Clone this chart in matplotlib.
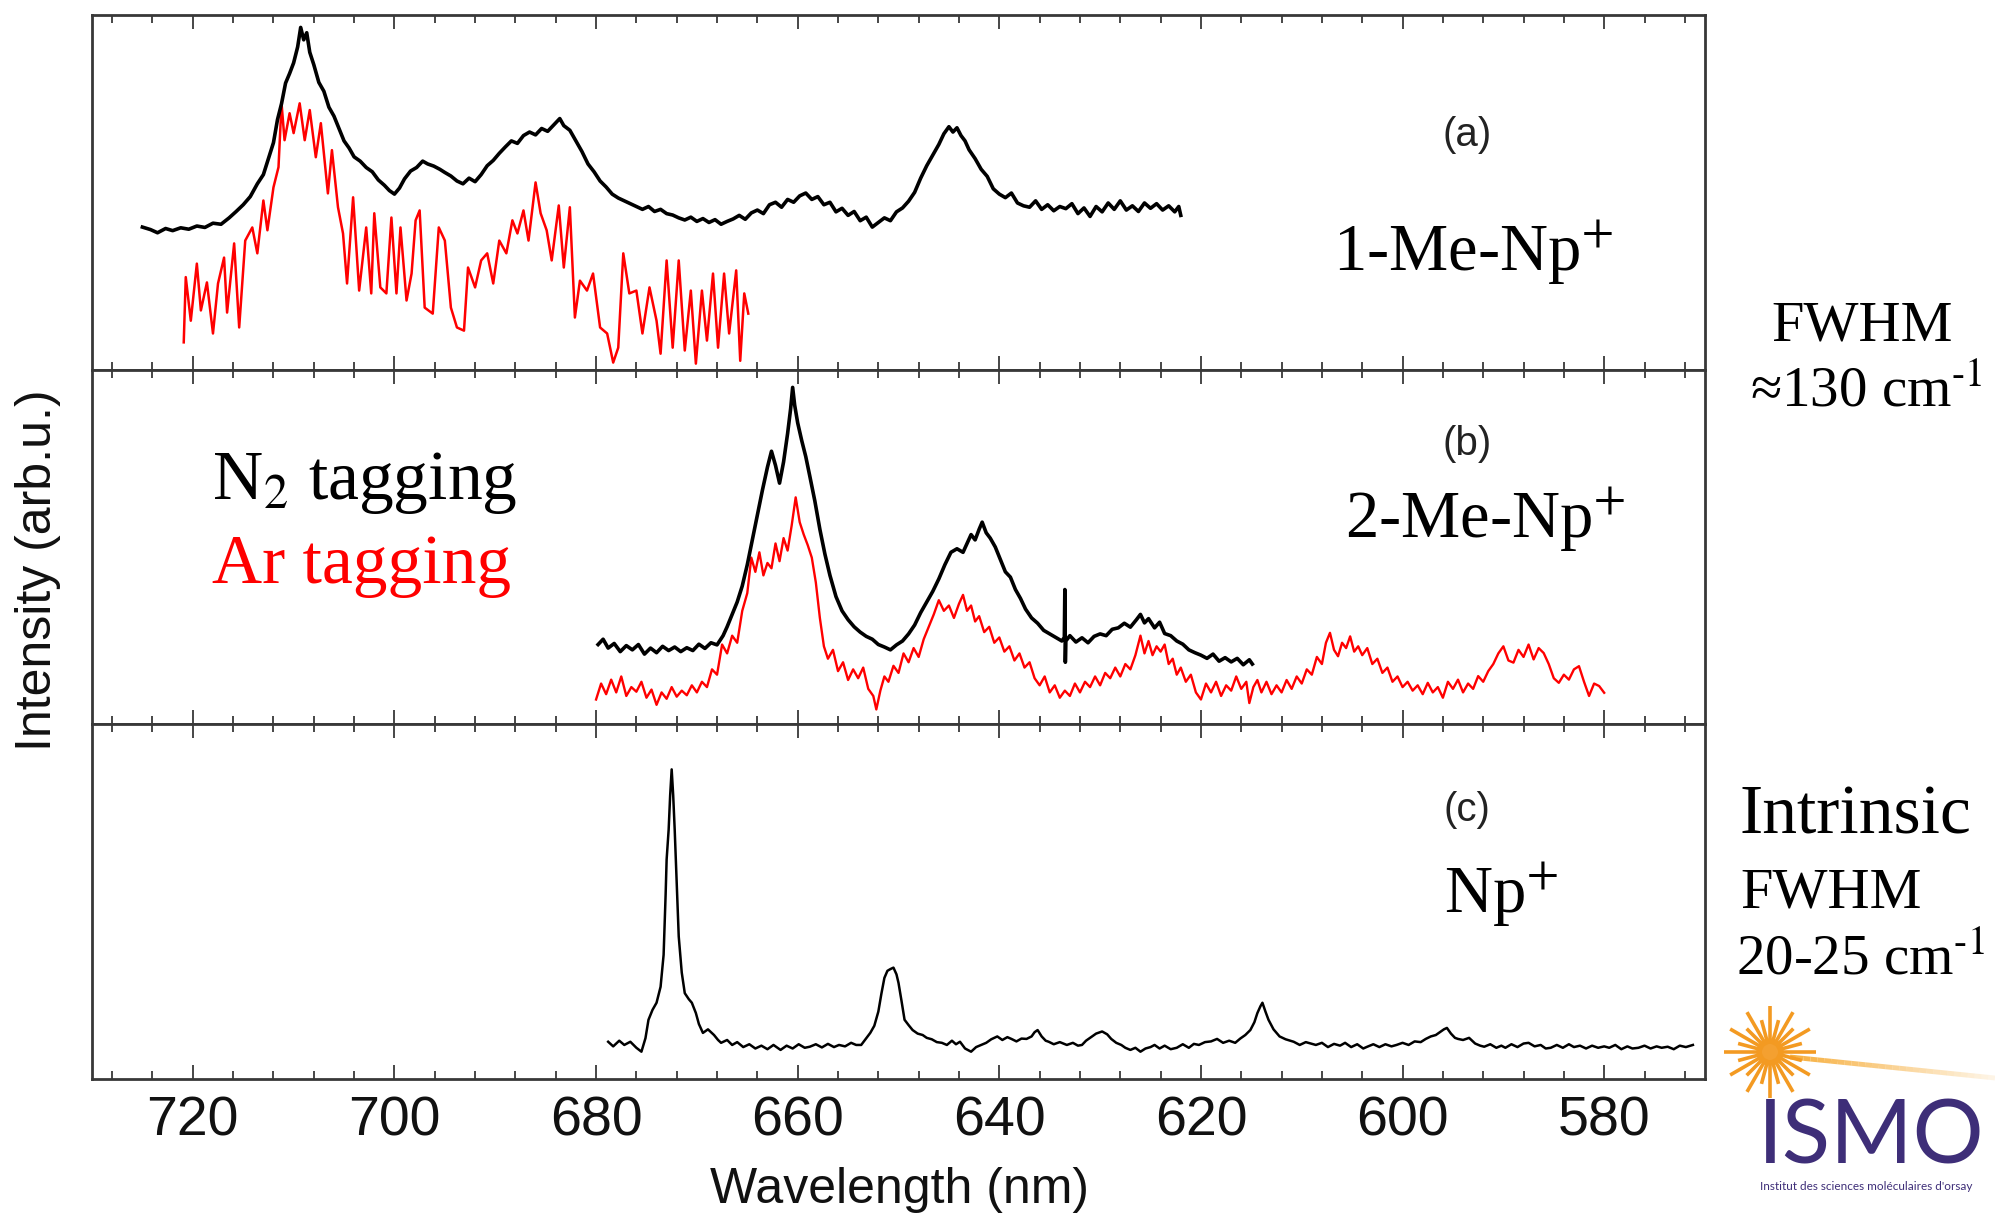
import numpy as np
import matplotlib.pyplot as plt
from matplotlib.ticker import MultipleLocator

plt.rcParams['font.family'] = ['Liberation Sans', 'DejaVu Sans']
plt.rcParams['mathtext.fontset'] = 'stix'

# ---- panel (a) 1-Me-Np+ : N2 tagging (black) ----
wl_a_n2 = [725.0, 724.2, 723.5, 722.7, 722.0, 721.2, 720.4, 719.6, 718.8, 718.0, 717.2, 716.4, 715.7,
           715.0, 714.3, 713.6, 713.0, 712.5, 712.0, 711.6, 711.2, 710.8, 710.4, 710.0, 709.6, 709.3,
           709.0, 708.7, 708.4, 708.0, 707.5, 707.0, 706.5, 706.0, 705.5, 705.0, 704.5, 704.0, 703.4,
           702.8, 702.2, 701.6, 701.0, 700.5, 700.0, 699.5, 699.0, 698.4, 697.8, 697.2, 696.7, 696.1,
           695.5, 695.0, 694.4, 693.8, 693.2, 692.6, 692.0, 691.4, 690.8, 690.2, 689.6, 689.0, 688.4,
           687.8, 687.2, 686.6, 686.0, 685.4, 684.8, 684.2, 683.6, 683.2, 682.6, 682.0, 681.4, 680.8,
           680.2, 679.6, 679.0, 678.4, 677.8, 677.2, 676.6, 676.0, 675.4, 674.8, 674.2, 673.6, 673.0,
           672.4, 671.8, 671.2, 670.6, 670.0, 669.4, 668.8, 668.2, 667.6, 667.0, 666.4, 665.8, 665.2,
           664.6, 664.0, 663.4, 662.8, 662.2, 661.6, 661.0, 660.4, 659.8, 659.2, 658.6, 658.0, 657.4,
           656.8, 656.2, 655.6, 655.0, 654.4, 653.8, 653.2, 652.6, 652.0, 651.4, 650.8, 650.2, 649.6,
           649.0, 648.4, 647.8, 647.2, 646.6, 646.0, 645.5, 645.0, 644.6, 644.2, 643.8, 643.4, 643.0,
           642.4, 641.8, 641.2, 640.6, 640.0, 639.4, 638.8, 638.2, 637.6, 637.0, 636.4, 635.8, 635.2,
           634.6, 634.0, 633.4, 632.8, 632.2, 631.6, 631.0, 630.4, 629.8, 629.2, 628.6, 628.0, 627.4,
           626.8, 626.2, 625.6, 625.0, 624.4, 623.8, 623.2, 622.6, 622.2, 622.0]
int_a_n2 = [40.2, 39.5, 38.6, 39.8, 39.2, 40.0, 39.6, 40.5, 40.1, 41.3, 41.0, 42.8, 44.6,
            46.5, 48.8, 52.4, 55.0, 59.5, 64.0, 70.5, 75.0, 80.8, 83.5, 86.5, 91.0, 96.5,
            93.0, 95.0, 89.5, 86.0, 81.0, 78.5, 74.0, 71.5, 68.0, 64.5, 62.5, 60.0, 58.8,
            57.0, 55.8, 53.5, 52.0, 50.5, 49.5, 51.2, 53.8, 56.0, 57.0, 58.8, 58.0, 57.4,
            56.5, 55.6, 54.6, 53.2, 52.4, 54.0, 53.0, 55.0, 57.5, 59.0, 61.0, 62.8, 64.5,
            63.8, 66.0, 67.0, 66.2, 68.0, 67.2, 69.0, 70.8, 68.8, 67.5, 64.5, 61.5, 58.0,
            55.8, 53.2, 51.5, 49.5, 48.4, 47.6, 46.8, 46.0, 45.2, 46.0, 44.6, 45.2, 44.0,
            43.6, 42.8, 42.2, 43.0, 41.8, 42.6, 41.5, 42.3, 41.0, 41.8, 42.5, 43.5, 42.4,
            44.2, 45.0, 44.0, 46.5, 47.2, 45.8, 48.0, 47.2, 49.0, 49.8, 48.0, 48.8, 46.5,
            47.2, 44.5, 45.5, 43.5, 44.6, 42.0, 43.0, 40.2, 41.5, 42.8, 42.0, 44.5, 45.6,
            47.5, 50.0, 54.0, 57.5, 60.5, 63.5, 66.5, 68.5, 67.0, 68.2, 66.0, 64.5, 62.0,
            59.5, 56.5, 54.5, 51.0, 49.5, 48.5, 49.8, 47.0, 46.2, 45.8, 47.6, 45.2, 46.5,
            44.8, 46.0, 45.4, 46.8, 44.0, 45.6, 43.2, 46.0, 44.5, 47.0, 45.2, 47.6, 45.0,
            46.2, 44.6, 47.0, 45.5, 46.8, 45.0, 46.2, 44.5, 46.0, 43.5]

# ---- panel (a) 1-Me-Np+ : Ar tagging (red) ----
wl_a_ar = [720.9, 720.7, 720.2, 719.6, 719.2, 718.6, 718.0, 717.5, 716.9, 716.6, 715.9, 715.4, 714.8,
           714.1, 713.6, 713.0, 712.6, 712.0, 711.5, 711.2, 710.9, 710.4, 710.0, 709.4, 708.9, 708.4,
           707.8, 707.3, 706.6, 706.2, 705.6, 705.1, 704.7, 704.1, 703.5, 702.8, 702.3, 702.0, 701.4,
           700.8, 700.3, 699.8, 699.4, 698.8, 698.3, 697.9, 697.5, 697.0, 696.2, 695.6, 695.0, 694.4,
           693.8, 693.1, 692.7, 692.0, 691.4, 690.8, 690.2, 689.6, 688.9, 688.3, 687.8, 687.2, 686.7,
           686.0, 685.5, 684.9, 684.4, 683.7, 683.2, 682.6, 682.1, 681.6, 680.9, 680.3, 679.6, 678.9,
           678.3, 677.8, 677.3, 676.7, 676.0, 675.4, 674.7, 674.0, 673.6, 673.0, 672.4, 671.8, 671.2,
           670.6, 670.1, 669.5, 669.0, 668.4, 667.9, 667.3, 666.8, 666.1, 665.7, 665.3, 664.9]
int_a_ar = [7.7, 26.1, 13.8, 29.9, 16.7, 24.6, 10.2, 24.3, 31.6, 16.1, 35.6, 11.9, 36.4,
            40.1, 32.8, 47.7, 39.3, 51.4, 57.1, 75.1, 64.7, 72.3, 66.7, 75.1, 64.7, 73.2,
            59.9, 69.5, 49.7, 61.9, 45.8, 38.4, 24.3, 48.6, 22.3, 40.1, 21.5, 44.1, 23.2,
            21.5, 42.9, 21.5, 40.1, 19.5, 27.1, 42.1, 44.9, 17.5, 15.8, 40.1, 36.4, 17.5,
            11.9, 11.0, 28.8, 23.2, 30.8, 32.8, 24.3, 36.4, 32.8, 42.1, 38.4, 44.9, 36.4,
            52.8, 44.1, 39.3, 30.8, 46.3, 28.8, 45.8, 14.7, 25.1, 22.3, 27.1, 11.9, 10.2,
            2.0, 6.2, 32.8, 21.5, 22.3, 10.2, 23.2, 13.8, 4.5, 30.8, 6.2, 30.8, 5.4,
            22.3, 1.7, 22.3, 8.2, 27.1, 6.2, 27.1, 10.2, 28.0, 2.5, 21.5, 15.8]

# ---- panel (b) 2-Me-Np+ : N2 tagging (black) ----
wl_b_n2 = [679.8, 679.3, 678.8, 678.2, 677.6, 677.0, 676.4, 675.8, 675.2, 674.6, 674.0, 673.4, 672.8,
           672.2, 671.6, 671.0, 670.4, 669.8, 669.2, 668.6, 668.0, 667.4, 667.0, 666.5, 666.0, 665.5,
           665.0, 664.5, 664.0, 663.5, 663.0, 662.6, 662.2, 661.8, 661.4, 661.0, 660.7, 660.5, 660.3,
           660.0, 659.6, 659.2, 658.8, 658.3, 657.8, 657.3, 656.8, 656.2, 655.6, 655.0, 654.4, 653.8,
           653.2, 652.6, 652.0, 651.4, 650.8, 650.2, 649.6, 649.0, 648.4, 647.8, 647.2, 646.6, 646.0,
           645.4, 644.8, 644.2, 643.6, 643.2, 642.8, 642.4, 642.0, 641.7, 641.3, 640.9, 640.4, 639.9,
           639.4, 638.9, 638.4, 637.9, 637.4, 636.8, 636.2, 635.6, 635.0, 634.4, 633.8, 633.55, 633.5,
           633.45, 633.4, 633.0, 632.4, 631.8, 631.2, 630.6, 630.0, 629.4, 628.8, 628.2, 627.6, 627.0,
           626.4, 626.0, 625.6, 625.2, 624.6, 624.1, 623.6, 623.0, 622.4, 621.8, 621.2, 620.6, 620.0,
           619.4, 618.8, 618.2, 617.6, 617.0, 616.4, 615.8, 615.2, 614.9]
int_b_n2 = [22.5, 24.0, 21.5, 22.8, 20.5, 22.2, 21.0, 22.5, 19.8, 21.5, 20.2, 22.0, 20.8,
            21.8, 20.5, 21.6, 20.8, 22.6, 21.4, 23.0, 22.4, 25.0, 27.5, 31.0, 34.5, 39.0,
            45.0, 52.0, 59.0, 66.0, 72.5, 77.0, 73.0, 68.0, 74.0, 82.0, 89.0, 95.0, 90.0,
            85.0, 80.0, 75.5, 70.0, 63.0, 55.0, 48.0, 42.0, 36.0, 32.0, 29.5, 27.5, 26.0,
            24.8, 24.0, 22.5, 21.8, 21.0, 22.4, 23.5, 25.5, 28.0, 31.5, 34.5, 37.5, 41.0,
            45.0, 48.5, 49.5, 48.5, 51.0, 53.5, 52.0, 55.0, 57.0, 54.0, 52.5, 50.0, 46.5,
            43.0, 41.5, 38.0, 35.5, 32.5, 30.0, 28.5, 26.5, 25.5, 24.5, 23.5, 24.5, 38.0,
            17.5, 23.5, 25.0, 23.2, 24.4, 23.0, 24.8, 25.5, 25.0, 26.8, 27.2, 28.5, 27.4,
            29.5, 31.0, 28.6, 29.8, 27.2, 28.8, 25.6, 25.0, 23.5, 22.6, 21.0, 20.2, 19.5,
            18.6, 19.8, 17.8, 18.8, 17.6, 18.6, 16.8, 18.2, 17.0]

# ---- panel (b) 2-Me-Np+ : Ar tagging (red) ----
wl_b_ar = [680.0, 679.5, 679.0, 678.5, 678.0, 677.5, 677.0, 676.5, 676.0, 675.5, 675.0, 674.5, 674.0,
           673.5, 673.0, 672.5, 672.0, 671.5, 671.0, 670.5, 670.0, 669.5, 669.0, 668.5, 668.0, 667.5,
           667.0, 666.5, 666.0, 665.5, 665.0, 664.6, 664.2, 663.8, 663.4, 663.0, 662.6, 662.2, 661.8,
           661.4, 661.0, 660.6, 660.2, 659.8, 659.4, 659.0, 658.6, 658.2, 657.8, 657.4, 657.0, 656.5,
           656.0, 655.5, 655.0, 654.5, 654.0, 653.5, 653.0, 652.5, 652.2, 651.8, 651.4, 651.0, 650.5,
           650.0, 649.5, 649.0, 648.5, 648.0, 647.5, 647.0, 646.5, 646.0, 645.5, 645.0, 644.5, 644.0,
           643.6, 643.2, 642.8, 642.4, 642.0, 641.5, 641.0, 640.5, 640.0, 639.5, 639.0, 638.5, 638.0,
           637.5, 637.0, 636.5, 636.0, 635.5, 635.0, 634.5, 634.0, 633.5, 633.0, 632.5, 632.0, 631.5,
           631.0, 630.5, 630.0, 629.5, 629.0, 628.5, 628.0, 627.5, 627.0, 626.5, 626.0, 625.6, 625.2,
           624.8, 624.4, 624.0, 623.6, 623.2, 622.8, 622.4, 622.0, 621.5, 621.0, 620.5, 620.0, 619.5,
           619.0, 618.5, 618.0, 617.5, 617.0, 616.5, 616.0, 615.5, 615.2, 614.8, 614.4, 614.0, 613.5,
           613.0, 612.5, 612.0, 611.5, 611.0, 610.5, 610.0, 609.5, 609.0, 608.5, 608.0, 607.6, 607.2,
           606.8, 606.4, 606.0, 605.6, 605.2, 604.8, 604.4, 604.0, 603.5, 603.0, 602.5, 602.0, 601.5,
           601.0, 600.5, 600.0, 599.5, 599.0, 598.5, 598.0, 597.5, 597.0, 596.5, 596.0, 595.5, 595.0,
           594.5, 594.0, 593.5, 593.0, 592.5, 592.0, 591.5, 591.0, 590.5, 590.0, 589.5, 589.0, 588.5,
           588.0, 587.5, 587.0, 586.5, 586.0, 585.5, 585.0, 584.5, 584.0, 583.5, 583.0, 582.5, 582.0,
           581.5, 581.0, 580.5, 580.0]
int_b_ar = [7.0, 11.5, 8.5, 12.6, 9.0, 13.5, 8.0, 10.5, 9.2, 12.0, 7.5, 9.8, 5.5,
            9.0, 7.2, 10.5, 7.8, 9.5, 8.2, 11.0, 9.0, 12.0, 10.5, 15.5, 14.0, 22.5,
            20.0, 25.0, 23.0, 32.0, 37.0, 47.0, 43.0, 48.5, 42.0, 45.5, 44.0, 51.0, 46.0,
            52.5, 49.0, 56.0, 64.0, 57.0, 53.5, 50.5, 47.0, 40.0, 30.0, 22.0, 18.5, 21.0,
            15.0, 17.5, 12.5, 15.5, 13.0, 16.0, 10.0, 8.0, 4.2, 9.5, 13.5, 12.0, 16.5,
            14.5, 20.0, 17.5, 21.5, 19.0, 24.0, 27.5, 31.0, 35.0, 32.0, 33.5, 30.0, 34.0,
            36.5, 32.0, 33.5, 29.0, 30.5, 26.0, 27.5, 23.0, 24.5, 20.5, 22.0, 18.0, 20.0,
            16.0, 17.5, 13.0, 11.0, 13.5, 9.0, 11.0, 7.5, 9.5, 8.0, 11.5, 9.0, 12.0,
            10.5, 13.5, 11.0, 14.5, 13.0, 16.0, 13.5, 17.0, 15.5, 19.5, 25.0, 20.0, 23.5,
            19.5, 22.0, 20.5, 22.5, 17.0, 18.5, 14.0, 16.0, 12.0, 14.0, 9.0, 7.0, 11.5,
            9.0, 12.0, 8.0, 11.0, 9.5, 13.5, 10.0, 12.0, 6.0, 10.5, 12.5, 9.0, 12.0,
            8.5, 11.0, 9.0, 12.5, 10.0, 13.5, 11.5, 15.5, 14.0, 19.0, 17.0, 23.0, 25.8,
            21.0, 19.2, 23.0, 21.5, 24.8, 20.5, 22.0, 19.5, 21.5, 17.0, 18.5, 14.5, 16.0,
            12.0, 13.5, 10.5, 12.0, 9.5, 11.0, 8.5, 11.7, 9.0, 10.5, 7.5, 12.0, 10.0,
            12.6, 9.0, 11.5, 10.0, 13.6, 12.0, 15.0, 17.0, 20.0, 22.0, 18.0, 17.4, 21.0,
            19.0, 22.5, 18.3, 21.5, 20.1, 17.0, 13.0, 11.7, 14.0, 12.6, 15.5, 16.4, 12.0,
            8.0, 11.5, 10.8, 8.9]

# ---- panel (c) Np+ (black) ----
wl_c = [678.8, 678.3, 677.7, 677.2, 676.6, 676.0, 675.5, 675.1, 674.8, 674.4, 674.0, 673.6, 673.3,
        673.1, 673.0, 672.8, 672.65, 672.5, 672.35, 672.2, 672.0, 671.8, 671.5, 671.2, 670.8, 670.5,
        670.1, 669.8, 669.4, 668.9, 668.3, 667.9, 667.6, 667.0, 666.5, 666.0, 665.4, 664.8, 664.2,
        663.6, 663.0, 662.4, 661.7, 661.1, 660.5, 659.9, 659.3, 658.8, 658.2, 657.6, 657.0, 656.4,
        655.9, 655.3, 654.7, 654.2, 653.7, 653.2, 652.8, 652.4, 652.0, 651.7, 651.4, 651.1, 650.8,
        650.5, 650.2, 650.0, 649.7, 649.4, 649.0, 648.6, 648.1, 647.6, 647.2, 646.7, 646.2, 645.7,
        645.2, 644.7, 644.3, 643.9, 643.4, 642.8, 642.3, 641.8, 641.3, 640.8, 640.2, 639.7, 639.2,
        638.8, 638.3, 637.8, 637.3, 636.8, 636.5, 636.2, 635.8, 635.4, 635.1, 634.6, 634.0, 633.3,
        632.7, 632.2, 631.8, 631.4, 630.9, 630.4, 629.8, 629.3, 628.9, 628.4, 627.9, 627.5, 627.0,
        626.5, 626.0, 625.5, 625.0, 624.6, 624.1, 623.6, 623.0, 622.4, 621.8, 621.2, 620.7, 620.2,
        619.6, 619.0, 618.4, 617.8, 617.2, 616.6, 616.1, 615.6, 615.1, 614.7, 614.4, 614.1, 613.9,
        613.6, 613.3, 612.8, 612.2, 611.6, 610.8, 610.2, 609.6, 608.6, 608.0, 607.4, 606.8, 606.2,
        605.7, 605.1, 604.5, 603.9, 603.5, 602.9, 602.3, 601.7, 601.1, 600.6, 600.0, 599.4, 598.8,
        598.2, 597.7, 597.2, 596.7, 596.2, 595.9, 595.6, 595.2, 594.8, 594.5, 594.0, 593.4, 592.8,
        592.3, 591.9, 591.3, 590.7, 590.2, 589.8, 589.2, 588.6, 588.0, 587.5, 586.9, 586.3, 585.8,
        585.3, 584.7, 584.1, 583.5, 583.0, 582.4, 581.8, 581.2, 580.6, 580.0, 579.5, 578.9, 578.3,
        577.7, 577.2, 576.6, 576.0, 575.4, 574.8, 574.3, 573.7, 573.1, 572.5, 571.9, 571.2]
int_c = [10.5, 9.2, 10.8, 9.6, 10.5, 8.8, 7.7, 11.5, 16.7, 19.5, 21.5, 26.0, 35.0,
         52.0, 61.9, 70.3, 80.0, 87.3, 80.0, 70.3, 55.0, 40.2, 30.0, 24.2, 22.5, 21.5,
         18.6, 15.5, 13.0, 14.0, 12.4, 11.0, 10.2, 11.0, 9.6, 10.4, 9.0, 9.8, 8.6,
         9.4, 8.4, 9.6, 8.2, 9.4, 8.6, 9.8, 8.8, 9.1, 9.8, 8.9, 9.9, 9.0,
         9.6, 9.2, 10.2, 9.6, 9.6, 11.5, 13.0, 15.0, 19.0, 24.0, 28.5, 30.5, 31.0,
         31.4, 29.5, 27.1, 22.0, 16.7, 15.2, 13.8, 12.8, 12.4, 11.6, 11.2, 10.4, 10.2,
         9.6, 10.8, 9.8, 10.5, 8.6, 7.7, 9.0, 9.6, 10.2, 11.2, 12.0, 11.0, 11.8,
         11.3, 10.6, 11.4, 11.3, 12.0, 13.2, 13.8, 12.0, 10.8, 10.5, 9.8, 10.4, 9.6,
         10.2, 9.4, 9.6, 10.8, 11.8, 12.8, 13.4, 12.6, 11.3, 10.2, 9.6, 8.8, 8.2,
         8.8, 7.7, 8.6, 9.0, 9.6, 8.6, 9.4, 8.4, 8.8, 9.8, 8.8, 9.9, 9.6,
         10.4, 10.6, 11.3, 10.2, 10.8, 10.2, 11.4, 12.4, 13.8, 16.0, 18.6, 20.5, 21.5,
         19.0, 16.7, 14.0, 12.0, 11.2, 10.5, 9.6, 10.4, 9.6, 10.2, 9.0, 9.9, 9.4,
         10.2, 9.0, 9.8, 8.6, 9.1, 9.8, 9.0, 9.8, 9.2, 9.6, 10.2, 9.6, 10.6,
         10.4, 11.3, 12.0, 12.4, 13.4, 14.0, 14.4, 12.8, 11.6, 11.3, 11.0, 11.6, 10.0,
         9.4, 9.1, 9.8, 8.8, 9.4, 8.8, 9.8, 9.0, 10.0, 10.2, 9.2, 9.6, 8.6,
         8.8, 9.6, 8.8, 9.8, 9.0, 9.4, 8.6, 9.4, 8.8, 9.2, 8.8, 9.6, 8.4,
         9.2, 8.6, 8.8, 9.4, 8.6, 9.2, 8.8, 9.1, 8.4, 9.4, 9.0, 9.6]

W, H = 1995, 1215
fig = plt.figure(figsize=(W / 100, H / 100), dpi=100)
fig.patch.set_facecolor('white')

left, right = 92 / W, 1705 / W
bottom, top = 1 - 1079 / H, 1 - 15 / H
ph = (top - bottom) / 3
axes = [fig.add_axes([left, top - (i + 1) * ph, right - left, ph]) for i in range(3)]

frame = '#383838'
for i, ax in enumerate(axes):
    ax.set_xlim(730, 570)
    ax.set_ylim(0, 100)
    ax.set_yticks([])
    ax.xaxis.set_major_locator(MultipleLocator(20))
    ax.xaxis.set_minor_locator(MultipleLocator(4))
    ax.tick_params(axis='x', which='both', direction='in', top=True, bottom=True,
                   width=1.3, colors=frame, labelcolor='#111111', labelsize=40, pad=12)
    ax.tick_params(axis='x', which='major', length=10)
    ax.tick_params(axis='x', which='minor', length=6)
    if i < 2:
        ax.tick_params(axis='x', labelbottom=False)
    for s in ax.spines.values():
        s.set_color(frame)
        s.set_linewidth(2)

axes[0].plot(wl_a_ar, int_a_ar, color='#ff0000', lw=1.8)
axes[0].plot(wl_a_n2, int_a_n2, color='black', lw=2.6)
axes[1].plot(wl_b_ar, int_b_ar, color='#ff0000', lw=1.7)
axes[1].plot(wl_b_n2, int_b_n2, color='black', lw=2.6)
axes[2].plot(wl_c, int_c, color='black', lw=1.8)


def fx(x):
    return x / W


def fy(y):
    return 1 - y / H


serif = ['Liberation Serif', 'DejaVu Serif']

# axis labels
fig.text(fx(900), fy(1190), 'Wavelength (nm)', fontsize=36, ha='center', va='center', color='#111111')
fig.text(fx(38), fy(570), 'Intensity (arb.u.)', fontsize=36, ha='center', va='center',
         rotation=90, color='#111111')

# panel tags
for lab, yb in [('(a)', 146), ('(b)', 455), ('(c)', 821)]:
    fig.text(fx(1467), fy(yb), lab, fontsize=29, ha='center', va='baseline', color='#222222')

fig.text(fx(1333), fy(271), r'1-Me-Np$^{\text{+}}$', fontsize=48, family=serif, va='baseline')
fig.text(fx(1345), fy(538), r'2-Me-Np$^{\text{+}}$', fontsize=48, family=serif, va='baseline')
fig.text(fx(1444), fy(913), r'Np$^{\text{+}}$', fontsize=48, family=serif, va='baseline')

fig.text(fx(212), fy(499), r'N$_{\text{2}}$ tagging', fontsize=50, family=serif, va='baseline')
fig.text(fx(212), fy(583), 'Ar tagging', fontsize=50, family=serif, va='baseline', color='#ff0000')

# right-hand notes
fig.text(fx(1771), fy(340), 'FWHM', fontsize=42, family=serif, va='baseline')
fig.text(fx(1750), fy(407), r'≈130 cm$^{\text{-1}}$', fontsize=41, family=serif, va='baseline')
fig.text(fx(1740), fy(833), 'Intrinsic', fontsize=50, family=serif, va='baseline')
fig.text(fx(1740), fy(907), 'FWHM', fontsize=42, family=serif, va='baseline')
fig.text(fx(1736), fy(975), r'20-25 cm$^{\text{-1}}$', fontsize=41, family=serif, va='baseline')

# ISMO logo
logo = fig.add_axes([0, 0, 1, 1], zorder=-1)
logo.set_xlim(0, W)
logo.set_ylim(H, 0)
logo.axis('off')
cx, cy = 1770, 1052
n_seg = 30
xs = np.linspace(1790, 1995, n_seg + 1)
ys = np.linspace(1057, 1078, n_seg + 1)
for k in range(n_seg):
    logo.plot(xs[k:k + 2], ys[k:k + 2], color='#f7b040', lw=3.5,
              alpha=0.9 * (1 - k / n_seg) + 0.1, solid_capstyle='butt')
for k, ang in enumerate(np.arange(0, 360, 15)):
    r2 = 46 if k % 2 == 0 else 33
    a = np.deg2rad(ang)
    logo.plot([cx + 8 * np.cos(a), cx + r2 * np.cos(a)], [cy + 8 * np.sin(a), cy + r2 * np.sin(a)],
              color='#f39a22', lw=2.6, solid_capstyle='butt')
logo.add_patch(plt.Circle((cx, cy), 13, color='#f4a030'))
fig.text(fx(1758), fy(1163), 'ISMO', fontsize=64, family=['Lato', 'DejaVu Sans'],
         color='#3e2e78', va='baseline')
fig.text(fx(1760), fy(1190), "Institut des sciences moléculaires d'orsay", fontsize=8.5,
         family=['Lato', 'DejaVu Sans'], color='#3e2e78', va='baseline')

fig.savefig('out.png', dpi=100)
